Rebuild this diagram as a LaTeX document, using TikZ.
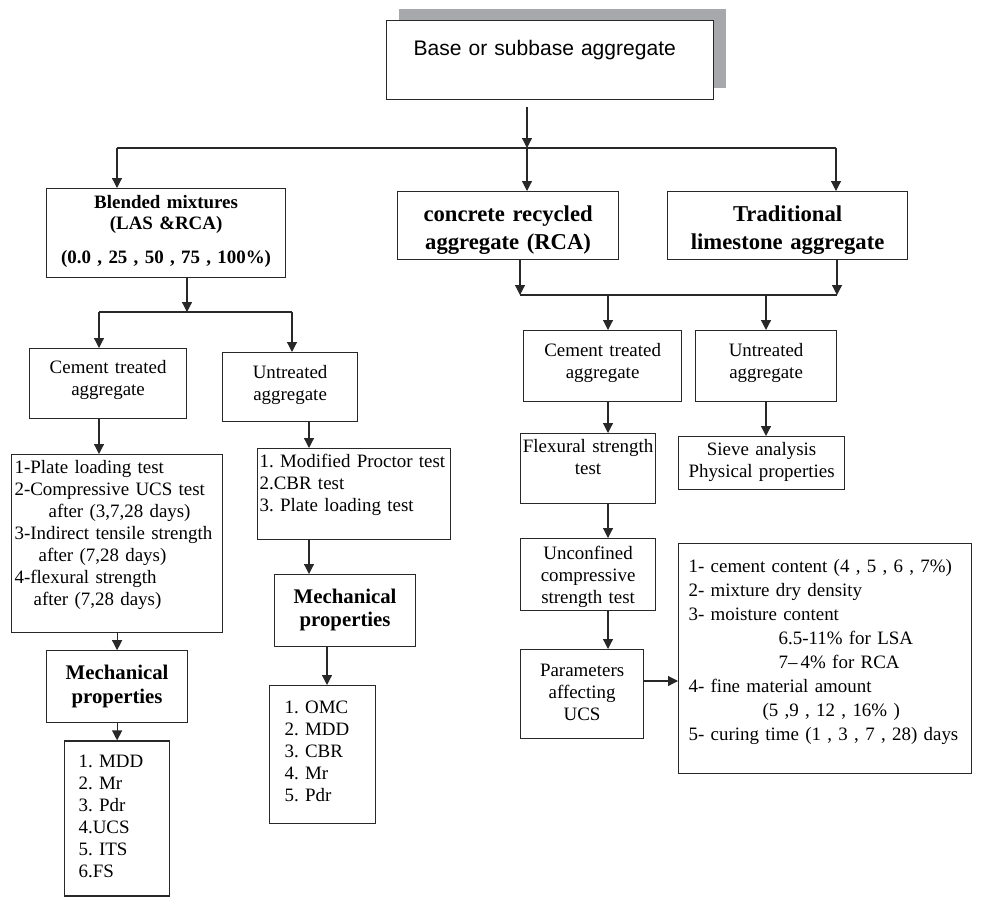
\documentclass[tikz,border=0pt]{standalone}
\usepackage{fontspec}
\setmainfont{Liberation Serif}
\newfontfamily\arialfont{Liberation Sans}
\usetikzlibrary{positioning,shadows,arrows.meta}
\definecolor{shadowgray}{RGB}{167,168,172}
\definecolor{linegray}{RGB}{40,40,40}
\tikzstyle{box}=[
	rectangle,
	draw=linegray,
	line width=0.9pt,
	fill=white,
	anchor=north west,
	inner xsep=3pt,
	inner ysep=0pt,
	align=center,
	font=\fontsize{14.2}{16.5}\selectfont
	]
\tikzstyle{headbox}=[box, font=\bfseries\fontsize{17}{21}\selectfont, text height=22.5pt, text depth=28.5pt]
\tikzstyle{mechbox}=[box, font=\bfseries\fontsize{15.6}{17.5}\selectfont, text width=99.75pt, text height=21.75pt, text depth=32.25pt]
\tikzstyle{listbox}=[box, align=left]
\tikzstyle{arr}=[-{Triangle[length=7.5pt,width=7.5pt]}, draw=linegray, line width=0.9pt]
\tikzstyle{line}=[draw=linegray, line width=0.9pt]

\begin{document}
\frenchspacing
\begin{tikzpicture}[x=0.75pt, y=-0.75pt]

	\useasboundingbox (0,0) rectangle (984,896);

	\node (base) [box, align=left, font=\arialfont\fontsize{15.8}{19}\selectfont, inner xsep=20.25pt, text width=204.75pt, text height=26.25pt, text depth=33pt, general shadow={fill=shadowgray, shadow xshift=9pt, shadow yshift=9pt}] at (386,20) {Base or subbase aggregate};

	\node (blended) [box, font=\bfseries\fontsize{14.2}{15.75}\selectfont, inner xsep=3.75pt, text width=171.75pt, text height=15pt, text depth=51.75pt] at (46,188) {
		Blended mixtures\\(LAS \&RCA)\\[9.75pt](0.0 , 25 , 50 , 75 , 100\%)
	};

	\node (concrete) [headbox, text width=159.75pt] at (397,191) {concrete recycled\\aggregate (RCA)};

	\node (traditional) [headbox, text width=174pt] at (667,191) {Traditional\\limestone aggregate};

	\node (cementL) [box, text width=111.75pt, text height=18.75pt, text depth=33.75pt] at (29,348) {Cement treated\\aggregate};

	\node (untreatedL) [box, text width=95.25pt, text height=19.5pt, text depth=32.25pt] at (222,352) {Untreated\\aggregate};

	\node (testsL) [listbox, inner xsep=2.25pt, text width=153.75pt, text height=14.25pt, text depth=119.25pt] at (11,454) {
		1-Plate loading test\\2-Compressive UCS test\\\hspace*{25.5pt}after (3,7,28 days)\\
		3-Indirect tensile strength\\\hspace*{18pt}after (7,28 days)\\
		4-flexural strength\\\hspace*{14.25pt}after (7,28 days)
	};

	\node (mechL) [mechbox, below=12.75pt of testsL] {Mechanical\\properties};

	\node (listL) [listbox, inner xsep=10.5pt, text width=57.75pt, text height=19.5pt, text depth=96.75pt, below=12.75pt of mechL] {
		1. MDD\\2. Mr\\3. Pdr\\4.UCS\\5. ITS\\6.FS
	};

	\node (proctor) [listbox, inner xsep=1.5pt, text width=141.75pt, text height=14.25pt, text depth=54pt] at (257,448) {
		1. Modified Proctor test\\2.CBR test\\3. Plate loading test
	};

	\node (mechU) [mechbox] at (274,574) {Mechanical\\properties};

	\node (listU) [listbox, inner xsep=11.25pt, text width=57pt, text height=21pt, text depth=82.5pt] at (269,685) {
		1. OMC\\2. MDD\\3. CBR\\4. Mr\\5. Pdr
	};

	\node (cementR) [box, text width=112.5pt, text height=19.5pt, text depth=33.75pt] at (523,330) {Cement treated\\aggregate};

	\node (untreatedR) [box, text width=99.75pt, text height=19.5pt, text depth=33.75pt] at (695,330) {Untreated\\aggregate};

	\node (flexural) [box, inner xsep=1pt, text width=99.25pt, text height=14.25pt, text depth=38.25pt] at (520,433) {Flexural strength\\test};

	\node (sieve) [box, text width=118.5pt, text height=14.25pt, text depth=25.5pt] at (678,436) {Sieve analysis\\Physical properties};

	\node (unconfined) [box, inner xsep=1pt, text width=99.25pt, text height=15.75pt, text depth=38.25pt] at (520,538) {Unconfined\\compressive\\strength test};

	\node (params) [box, text width=86.25pt, text height=20.25pt, text depth=46.5pt] at (520,649) {Parameters\\affecting\\UCS};

	\node (factors) [listbox, font=\fontsize{14.2}{18}\selectfont, inner xsep=7.5pt, text width=204.75pt, text height=21.75pt, text depth=150.75pt] at (678,543) {
		1- cement content (4 , 5 , 6 , 7\%)\\2- mixture dry density\\3- moisture content\\
		\hspace*{67.5pt}6.5-11\% for LSA\\\hspace*{67.5pt}7–\,4\% for RCA\\
		4- fine material amount\\\hspace*{55.5pt}(5 ,9 , 12 , 16\% )\\
		5- curing time (1 , 3 , 7 , 28) days
	};

	\coordinate (hub) at (527,148);
	\coordinate (hubL) at (117,148);
	\coordinate (hubR) at (836,148);
	\draw[line] (hubL) -- (hubR);
	\draw[arr] ([yshift=-5pt]base.south -| hub) -- (hub);
	\draw[arr] (hubL) -- (hubL |- blended.north);
	\draw[arr] (hub) -- (hub |- concrete.north);
	\draw[arr] (hubR) -- (hubR |- traditional.north);

	\coordinate (splitL) at (187,312);
	\coordinate (splitLa) at (99,312);
	\coordinate (splitLb) at (292,312);
	\draw[arr] (blended.south -| splitL) -- (splitL);
	\draw[line] (splitLa) -- (splitLb);
	\draw[arr] (splitLa) -- (splitLa |- cementL.north);
	\draw[arr] (splitLb) -- (splitLb |- untreatedL.north);
	\draw[arr] (cementL.south -| splitLa) -- (splitLa |- testsL.north);
	\draw[arr] (testsL.south) -- (mechL.north);
	\draw[arr] (mechL.south) -- (listL.north);

	\coordinate (colU) at (309,430);
	\coordinate (colV) at (327,660);
	\draw[arr] (untreatedL.south -| colU) -- (colU |- proctor.north);
	\draw[arr] (proctor.south -| colU) -- (colU |- mechU.north);
	\draw[arr] (mechU.south -| colV) -- (colV |- listU.north);

	\coordinate (joinR) at (520,295);
	\coordinate (joinT) at (837,295);
	\coordinate (colC) at (608,295);
	\coordinate (colS) at (766,295);
	\draw[arr] (concrete.south -| joinR) -- (joinR);
	\draw[arr] (traditional.south -| joinT) -- (joinT);
	\draw[line] (joinR) -- (joinT);
	\draw[arr] (colC) -- (colC |- cementR.north);
	\draw[arr] (colS) -- (colS |- untreatedR.north);
	\draw[arr] (cementR.south -| colC) -- (colC |- flexural.north);
	\draw[arr] (untreatedR.south -| colS) -- (colS |- sieve.north);
	\draw[arr] (flexural.south -| colC) -- (colC |- unconfined.north);
	\draw[arr] (unconfined.south -| colC) -- (colC |- params.north);

	\coordinate (rowP) at (643,681);
	\draw[arr] (params.east |- rowP) -- (rowP -| factors.west);

\end{tikzpicture}
\end{document}
